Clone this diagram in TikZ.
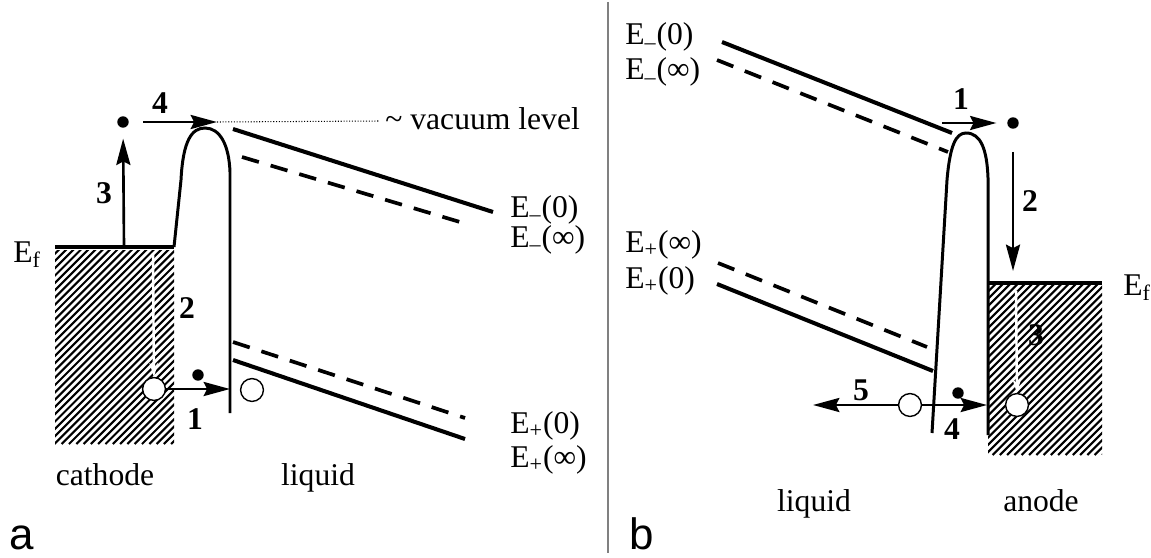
\documentclass[tikz,border=0pt]{standalone}
\usepackage{fontspec}
\setmainfont{Liberation Serif}
\setsansfont{Liberation Sans}
\usetikzlibrary{arrows.meta}

\begin{document}
\begin{tikzpicture}[
    x=0.02cm, y=-0.02cm,
    level/.style={line width=2.3pt},
    levelinf/.style={line width=2.1pt, dash pattern=on 10pt off 7pt},
    fermi/.style={line width=2.3pt},
    wall/.style={line width=1.7pt},
    hop/.style={line width=1.5pt, -{Stealth[length=15pt, width=8pt, inset=2pt]}},
    whitehop/.style={white, line width=1.4pt, -{Stealth[length=8pt, width=5pt]}},
    electron/.style={circle, fill=black, inner sep=0pt, minimum size=6.5pt},
    hole/.style={circle, draw=black, line width=0.8pt, fill=white, inner sep=0pt, minimum size=13pt},
    lbl/.style={font=\fontsize{18}{20}\selectfont, inner sep=0pt},
    num/.style={font=\fontsize{18}{20}\selectfont\bfseries, inner sep=0pt},
    panel/.style={font=\sffamily\fontsize{25}{27}\selectfont, inner sep=0pt}
]
\useasboundingbox (0,0) rectangle (1151,557);

% (a) cathode side
\begin{scope}
  \clip (55,250) rectangle (174,444);
  \foreach \k in {0,...,46}
    \draw[line width=1.2pt] (\k*7.3-150,444) -- ++(210,-210);
\end{scope}
\draw[fermi] (55,247) -- (174,247);
\draw[wall] (174,247) -- (181,180) .. controls (183,140) and (192,128) .. (205,128)
  .. controls (220,128) and (229,145) .. (230,172) -- (230,413);

\draw[level] (233,129) -- (493,212);
\draw[levelinf] (242,157) -- (470,225);
\draw[levelinf] (233,342) -- (465,418);
\draw[level] (233,360) -- (465,439);

\node[electron] (eVac) at (123,122) {};
\coordinate (efTop) at (124,247);
\coordinate (barTop) at (217,122);
\coordinate (vacEnd) at (380,121);
\node[hole] (hCath) at (154,389) {};
\node[hole] (hLiq) at (252,390) {};
\node[electron] (eLiq) at (198,375) {};
\coordinate (barWall) at (230,389);
\coordinate (efHole) at (153,253);

\draw[hop, shorten >=6pt] (efTop) -- (eVac);
\draw[hop, shorten <=8pt] (eVac) -- (barTop);
\draw[densely dotted, line width=0.6pt] (barTop) -- (vacEnd);
\draw[hop] (hCath) -- (barWall);
\draw[whitehop] (efHole) -- (hCath);

\node[num] (n4a) at (160,103) {4};
\node[num] (n3a) at (104,193) {3};
\node[num] (n2a) at (187,308) {2};
\node[num] (n1a) at (195,419) {1};

\node[lbl, anchor=base west] (efA) at (13,262) {E\textsubscript{f}};
\node[lbl, anchor=base west] (vac) at (385,130) {\textasciitilde\ vacuum level};
\node[lbl, anchor=base west] (emZeroA) at (510,217) {E\textsubscript{--}(0)};
\node[lbl, anchor=base west] (emInfA) at (510,247) {E\textsubscript{--}(∞)};
\node[lbl, anchor=base west] (epZeroA) at (510,433) {E\textsubscript{+}(0)};
\node[lbl, anchor=base west] (epInfA) at (510,467) {E\textsubscript{+}(∞)};
\node[lbl, anchor=base] (cathode) at (105,485) {cathode};
\node[lbl, anchor=base] (liquidA) at (318,485) {liquid};
\node[panel, anchor=base] (labA) at (22,549) {a};

% divider
\draw[gray, line width=0.8pt] (608,2) -- (608,553);

% (b) anode side
\begin{scope}
  \clip (988,285) rectangle (1102,455);
  \foreach \k in {0,...,42}
    \draw[line width=1.2pt] (\k*7.3+810,455) -- ++(190,-190);
\end{scope}
\draw[fermi] (988,283) -- (1102,283);
\draw[wall] (932,433) -- (947,180) .. controls (950,145) and (956,133) .. (966,133)
  .. controls (981,133) and (987,150) .. (988,178) -- (988,435);

\draw[level] (722,42) -- (952,133);
\draw[levelinf] (717,60) -- (948,152);
\draw[levelinf] (718,263) -- (927,347);
\draw[level] (717,284) -- (933,371);

\node[electron] (eTop) at (1013,123) {};
\coordinate (barTopB) at (942,123);
\coordinate (efB) at (1013,271);
\node[hole] (hAnode) at (1017,405) {};
\coordinate (efHoleB) at (1016,291);
\node[hole] (hLiqB) at (910,405) {};
\coordinate (lost) at (813,405);
\coordinate (barWallB) at (987,405);
\node[electron] (eLiqB) at (958,393) {};

\draw[hop, shorten >=6pt] (barTopB) -- (eTop);
\draw[hop, shorten <=13pt] (eTop) -- (efB);
\draw[whitehop] (efHoleB) -- (hAnode);
\draw[hop] (hLiqB) -- (lost);
\draw[hop] (hLiqB) -- (barWallB);

\node[num] (n1b) at (961,99) {1};
\node[num] (n2b) at (1030,201) {2};
\node[num] (n3b) at (1036,335) {3};
\node[num] (n4b) at (952,429) {4};
\node[num] (n5b) at (861,390) {5};

\node[lbl, anchor=base west] (emZeroB) at (625,45) {E\textsubscript{--}(0)};
\node[lbl, anchor=base west] (emInfB) at (625,80) {E\textsubscript{--}(∞)};
\node[lbl, anchor=base west] (epInfB) at (625,252) {E\textsubscript{+}(∞)};
\node[lbl, anchor=base west] (epZeroB) at (625,288) {E\textsubscript{+}(0)};
\node[lbl, anchor=base west] (efLabB) at (1123,295) {E\textsubscript{f}};
\node[lbl, anchor=base] (liquidB) at (814,511) {liquid};
\node[lbl, anchor=base] (anode) at (1041,511) {anode};
\node[panel, anchor=base] (labB) at (642,549) {b};

\end{tikzpicture}
\end{document}
